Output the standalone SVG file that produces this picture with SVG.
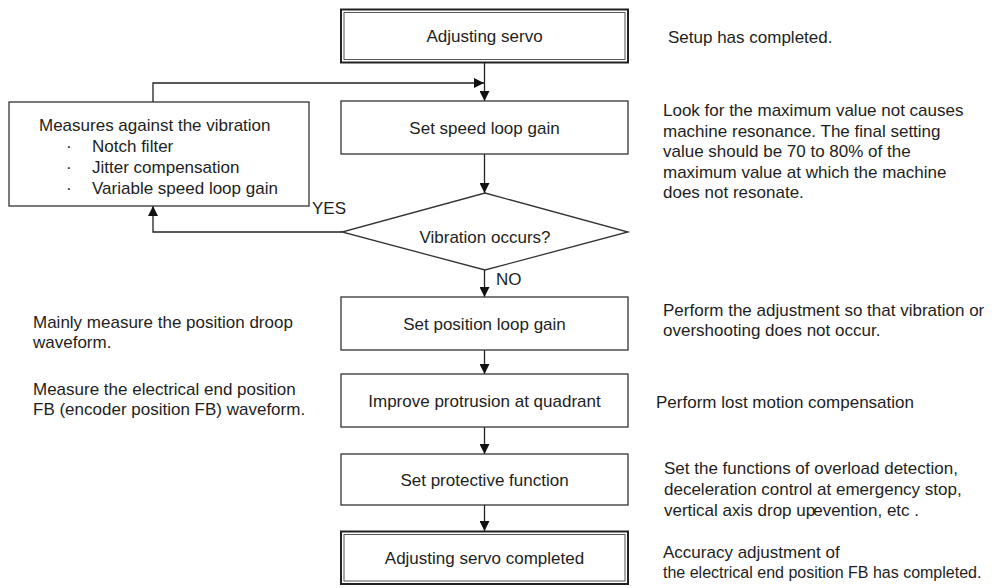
<svg xmlns="http://www.w3.org/2000/svg" width="997" height="588" viewBox="0 0 997 588">
<style>
  text { font-family: "Liberation Sans", Arial, sans-serif; font-size: 17px; fill: #1e1e1e; }
  .c { text-anchor: middle; }
  .sm { font-size: 16px; }
  .box { fill: #fff; stroke: #333; stroke-width: 1.3; }
  .outer { fill: #fff; stroke: #222; stroke-width: 2; }
  .inner { fill: none; stroke: #555; stroke-width: 1; }
  .ln { fill: none; stroke: #222; stroke-width: 1.3; }
</style>
<defs>
  <marker id="ah" viewBox="0 0 10 10" refX="10" refY="5" markerWidth="10" markerHeight="10" markerUnits="userSpaceOnUse" orient="auto">
    <path d="M0,0 L10,5 L0,10 z" fill="#111"/>
  </marker>
</defs>
<rect width="997" height="588" fill="#fff"/>

<g id="connectors">
  <line class="ln" x1="484.5" y1="63" x2="484.5" y2="101" marker-end="url(#ah)"/>
  <polyline class="ln" points="153,102 153,83 484,83" marker-end="url(#ah)"/>
  <line class="ln" x1="484.5" y1="154" x2="484.5" y2="193" marker-end="url(#ah)"/>
  <polyline class="ln" points="342,232 153,232 153,206" marker-end="url(#ah)"/>
  <line class="ln" x1="484.5" y1="270" x2="484.5" y2="297" marker-end="url(#ah)"/>
  <line class="ln" x1="484.5" y1="350" x2="484.5" y2="374" marker-end="url(#ah)"/>
  <line class="ln" x1="484.5" y1="427" x2="484.5" y2="454" marker-end="url(#ah)"/>
  <line class="ln" x1="484.5" y1="505" x2="484.5" y2="531" marker-end="url(#ah)"/>
  <text x="312" y="214">YES</text>
  <text x="496" y="285">NO</text>
</g>

<g id="start">
  <rect class="outer" x="341" y="9.5" width="287" height="53"/>
  <rect class="inner" x="344" y="12.5" width="281" height="47"/>
  <text class="c" x="484.5" y="42">Adjusting servo</text>
</g>

<g id="speed">
  <rect class="box" x="341" y="101" width="287" height="53"/>
  <text class="c" x="484.5" y="134">Set speed loop gain</text>
</g>

<g id="measures">
  <rect class="box" x="9" y="102" width="300" height="104"/>
  <text x="39" y="131">Measures against the vibration</text>
  <text x="66" y="152">·</text><text x="92" y="152">Notch filter</text>
  <text x="66" y="173">·</text><text x="92" y="173">Jitter compensation</text>
  <text x="66" y="194">·</text><text x="92" y="194">Variable speed loop gain</text>
</g>

<g id="vibration">
  <polygon class="box" points="485,193 628,232 485,270 342,232"/>
  <text class="c" x="485" y="243">Vibration occurs?</text>
</g>

<g id="position">
  <rect class="box" x="341" y="297" width="287" height="53"/>
  <text class="c" x="484.5" y="330">Set position loop gain</text>
</g>

<g id="quadrant">
  <rect class="box" x="341" y="374" width="287" height="53"/>
  <text class="c" x="484.5" y="407">Improve protrusion at quadrant</text>
</g>

<g id="protective">
  <rect class="box" x="341" y="454" width="287" height="51"/>
  <text class="c" x="484.5" y="486">Set protective function</text>
</g>

<g id="end">
  <rect class="outer" x="341" y="531.5" width="287" height="52.5"/>
  <rect class="inner" x="344" y="534.5" width="281" height="46.5"/>
  <text class="c" x="484.5" y="564">Adjusting servo completed</text>
</g>

<g id="notes">
  <text x="668" y="43">Setup has completed.</text>
  <text x="663" y="116">Look for the maximum value not causes</text>
  <text x="663" y="136.5">machine resonance. The final setting</text>
  <text x="663" y="157">value should be 70 to 80% of the</text>
  <text x="663" y="177.5">maximum value at which the machine</text>
  <text x="663" y="198">does not resonate.</text>
  <text x="663" y="316">Perform the adjustment so that vibration or</text>
  <text x="663" y="336">overshooting does not occur.</text>
  <text x="656" y="408">Perform lost motion compensation</text>
  <text x="664" y="474">Set the functions of overload detection,</text>
  <text x="664" y="495">deceleration control at emergency stop,</text>
  <text x="664" y="516">vertical axis drop up<tspan dx="-2">evention, etc .</tspan></text>
  <text x="663" y="558">Accuracy adjustment of</text>
  <text class="sm" x="663" y="578">the electrical end position FB has completed.</text>
  <text x="33" y="328">Mainly measure the position droop</text>
  <text x="33" y="348">waveform.</text>
  <text x="33" y="395">Measure the electrical end position</text>
  <text x="33" y="415">FB (encoder position FB) waveform.</text>
</g>
</svg>
